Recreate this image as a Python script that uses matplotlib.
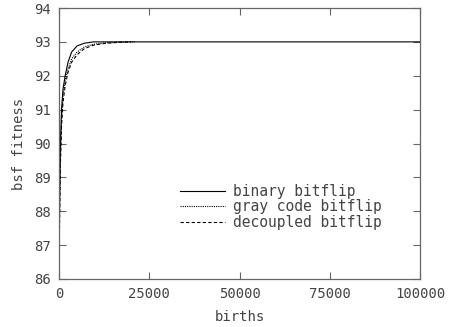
import matplotlib
matplotlib.use("Agg")
import matplotlib.pyplot as plt

# bsf fitness vs births
binary_x = [0, 150, 400, 700, 1100, 1700, 2500, 3500, 5000, 7000, 9500, 100000]
binary_y = [86.0, 88.3, 90.0, 91.0, 91.6, 92.0, 92.4, 92.7, 92.88, 92.96, 93.0, 93.0]

gray_x = [0, 150, 400, 700, 1100, 1700, 2500, 3500, 5000, 7000, 9500, 13000, 17000, 21000]
gray_y = [86.0, 87.8, 89.6, 90.7, 91.4, 91.85, 92.2, 92.5, 92.7, 92.85, 92.93, 92.97, 92.99, 93.0]

dec_x = [0, 150, 400, 700, 1100, 1700, 2500, 3500, 5000, 7000, 9500, 13000, 17000, 20000]
dec_y = [86.0, 87.6, 89.4, 90.5, 91.2, 91.7, 92.1, 92.4, 92.62, 92.8, 92.9, 92.96, 92.99, 93.0]

xticks = [0, 25000, 50000, 75000, 100000]
yticks = [86, 87, 88, 89, 90, 91, 92, 93, 94]

txt = '#444444'
plt.rcParams['font.family'] = 'DejaVu Sans Mono'

fig = plt.figure(figsize=(4.54, 3.27), dpi=100)
ax = fig.add_axes([59/454, 48/327, 361/454, 271/327])

ax.plot(binary_x, binary_y, color='black', lw=0.8, label='binary bitflip')
ax.plot(gray_x, gray_y, color='black', lw=0.8, ls=(0, (1, 1)), label='gray code bitflip')
ax.plot(dec_x, dec_y, color='black', lw=0.8, ls=(0, (3, 2)), label='decoupled bitflip')

ax.set_xlim(0, 100000)
ax.set_ylim(86, 94)
ax.set_xticks(xticks)
ax.set_yticks(yticks)
ax.tick_params(direction='in', top=True, right=True, length=5, width=0.8,
               colors='#666666', labelcolor=txt, labelsize=10, pad=6)
for s in ax.spines.values():
    s.set_color('#666666')
    s.set_linewidth(0.9)

ax.set_xlabel('births', color=txt, fontsize=10, labelpad=6)
ax.set_ylabel('bsf fitness', color=txt, fontsize=10, labelpad=6)

leg = ax.legend(loc='center right', bbox_to_anchor=(0.895, 0.266), frameon=False,
                fontsize=10.5, handlelength=3.1, handletextpad=0.55, labelspacing=0.05,
                borderaxespad=0, borderpad=0)
for t in leg.get_texts():
    t.set_color(txt)

fig.savefig('out.png', dpi=100)
